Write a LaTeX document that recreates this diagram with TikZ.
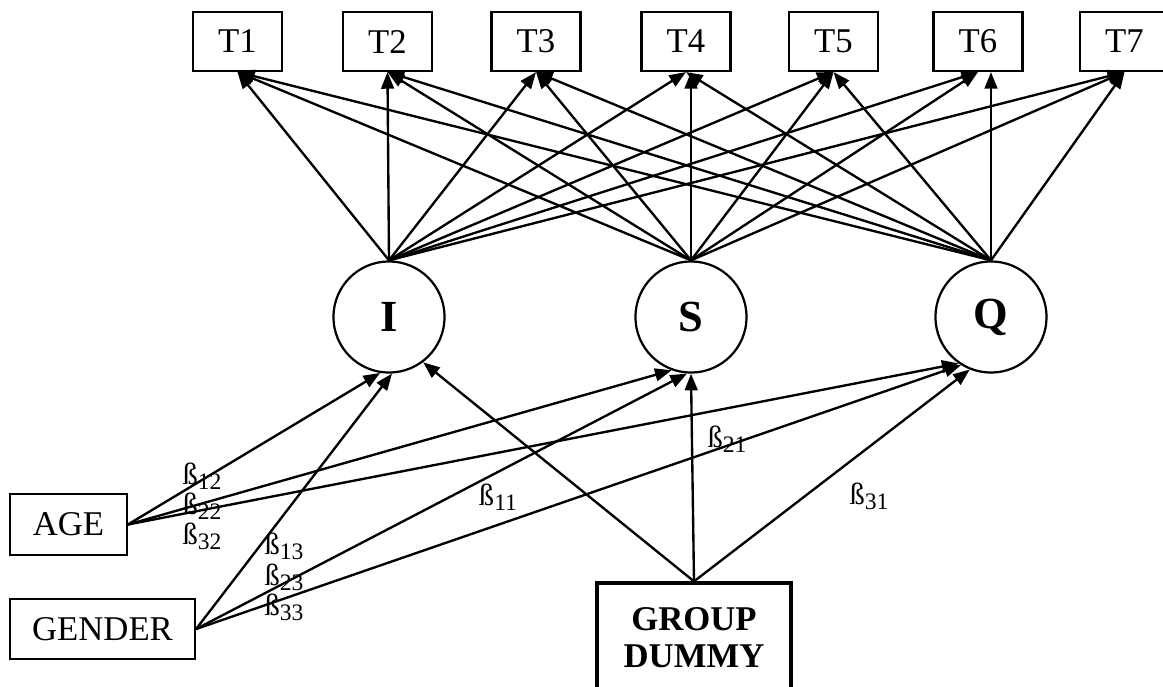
\documentclass[tikz,border=0pt]{standalone}
\usepackage{fontspec}
\setmainfont{Liberation Serif}
\usetikzlibrary{arrows.meta}

\tikzset{
  obsbox/.style={draw, line width=0.8pt, minimum width=32pt, minimum height=21.2pt, inner sep=0pt, font=\fontsize{12.5}{14}\selectfont},
  latent/.style={circle, draw, line width=0.8pt, minimum size=40pt, inner sep=0pt, font=\fontsize{16}{18}\selectfont\bfseries},
  covbox/.style={draw, line width=0.8pt, minimum height=21.8pt, inner sep=0pt, font=\fontsize{12.5}{14}\selectfont},
  effect/.style={line width=0.85pt, -{Triangle[length=6pt,width=4.6pt]}},
  coef/.style={font=\fontsize{11}{11}\selectfont, inner sep=0pt}
}
\newcommand{\bcoef}[1]{ß\raisebox{-1.8pt}{\fontsize{8.5}{8.5}\selectfont #1}}

\begin{document}
\begin{tikzpicture}[x=0.36pt, y=-0.36pt]
  \useasboundingbox (0,0) rectangle (1163,686);

  % Time points
  \foreach \k/\x in {1/237.5, 2/387.5, 3/536, 4/686, 5/833.5, 6/978, 7/1124.5} {
    \node[obsbox] (T\k) at (\x, 41.5) {T\k};
  }

  % Growth factors
  \node[latent] (I) at (389, 317) {I};
  \node[latent] (S) at (691, 317) {S};
  \node[latent] (Q) at (991, 317) {Q};

  % Covariates
  \node[covbox, minimum width=42pt] (age) at (68.5, 524.5) {AGE};
  \node[covbox, minimum width=66.6pt] (gender) at (102.5, 629) {GENDER};
  \node[draw, line width=1.3pt, minimum width=69.8pt, minimum height=42pt, inner sep=0pt,
        font=\fontsize{12.5}{13.3}\selectfont\bfseries] (dummy) at (694, 641.5)
        {\raisebox{3pt}{\begin{tabular}{@{}c@{}}GROUP\\DUMMY\end{tabular}}};

  % Loadings
  \foreach \f in {I, S, Q} {
    \foreach \k in {1, 3, 5, 7} {
      \draw[effect] (\f.north) -- (T\k.south);
    }
  }
  \draw[effect] (I.north) -- (T2.south);
  \draw[effect] (S.north) -- (T2.south);
  \draw[effect] (Q.north) -- (T2.south);
  \draw[effect] (I.north) -- (T4.south);
  \draw[effect] (S.north) -- (S.north |- T4.south);
  \draw[effect] (Q.north) -- (T4.south);
  \draw[effect] (I.north) -- (T6.south);
  \draw[effect] (S.north) -- (T6.south);
  \draw[effect] (Q.north) -- (Q.north |- T6.south);

  % Regressions on covariates
  \draw[effect] (age.east) -- (I.-99);
  \draw[effect] (age.east) -- (S.-110);
  \draw[effect] (age.east) -- (Q.-125);
  \draw[effect] (gender.east) -- (I.-87);
  \draw[effect] (gender.east) -- (S.-94);
  \draw[effect] (gender.east) -- (Q.-122);
  \draw[effect] (dummy.north) -- (I.-53);
  \draw[effect] (dummy.north) -- (S.south);
  \draw[effect] (dummy.north) -- (Q.-112);

  % Coefficients
  \node[coef] (b12) at (202, 476) {\bcoef{12}};
  \node[coef] (b22) at (202, 506) {\bcoef{22}};
  \node[coef] (b32) at (202, 536) {\bcoef{32}};
  \node[coef] (b13) at (284, 546) {\bcoef{13}};
  \node[coef] (b23) at (284, 577) {\bcoef{23}};
  \node[coef] (b33) at (284, 607) {\bcoef{33}};
  \node[coef] (b11) at (498, 497) {\bcoef{11}};
  \node[coef] (b21) at (727, 439) {\bcoef{21}};
  \node[coef] (b31) at (869, 496) {\bcoef{31}};
\end{tikzpicture}
\end{document}
